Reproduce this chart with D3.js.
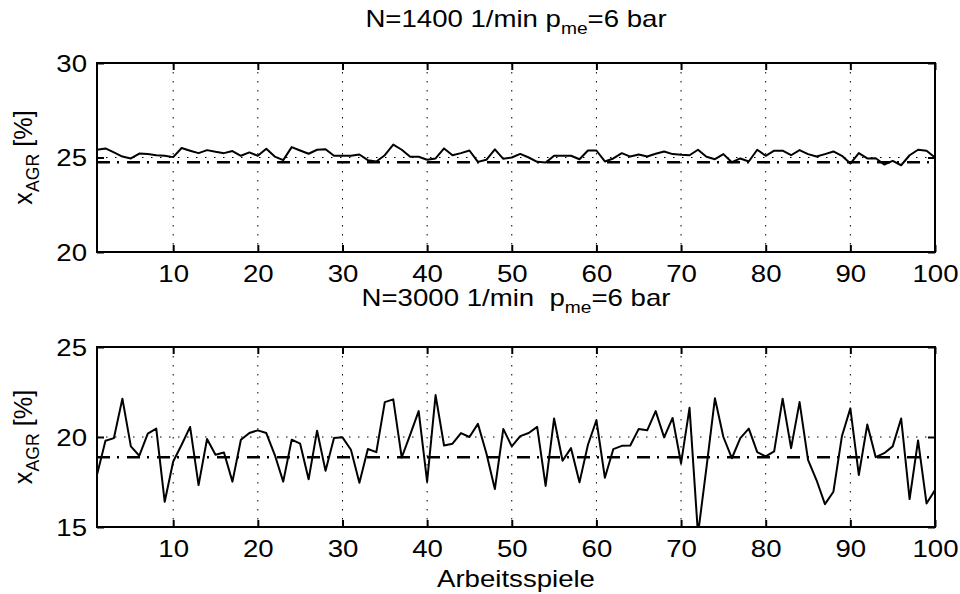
<!DOCTYPE html>
<html>
<head>
<meta charset="utf-8">
<script src="https://cdn.jsdelivr.net/npm/d3@7"></script>
<style>
  body { margin: 0; background: #fff; }
  text { font-family: "Liberation Sans", Arial, sans-serif; fill: #000; }
</style>
</head>
<body>
<div id="chart"></div>
<script>
// x_AGR per working cycle, 1400 1/min
const agrLow = [25.41, 25.48, 25.27, 25.05, 24.95, 25.21, 25.18, 25.12, 25.09, 25.02,
    25.50, 25.36, 25.23, 25.39, 25.30, 25.23, 25.34, 25.09, 25.27, 25.09,
    25.46, 25.05, 24.86, 25.55, 25.37, 25.20, 25.41, 25.44, 25.09, 25.09,
    25.09, 25.16, 24.86, 24.79, 25.12, 25.68, 25.41, 25.04, 25.04, 24.88,
    24.95, 25.48, 25.12, 25.23, 25.37, 24.77, 24.88, 25.43, 24.93, 25.00,
    25.19, 25.00, 24.77, 24.73, 25.09, 25.09, 25.09, 24.91, 25.37, 25.37,
    24.79, 24.95, 25.23, 25.05, 25.16, 25.05, 25.20, 25.32, 25.18, 25.14,
    25.12, 25.41, 25.04, 24.91, 25.18, 24.75, 24.95, 24.79, 25.41, 25.09,
    25.36, 25.36, 25.12, 25.39, 25.18, 25.05, 25.18, 25.32, 25.09, 24.68,
    25.23, 24.95, 24.96, 24.63, 24.82, 24.59, 25.12, 25.41, 25.36, 25.00];

// x_AGR per working cycle, 3000 1/min
const agrHigh = [17.9, 19.79, 19.94, 22.13, 19.48, 18.96, 20.19, 20.47, 16.40, 18.64,
    19.57, 20.56, 17.33, 19.89, 19.01, 19.14, 17.52, 19.85, 20.22, 20.37,
    20.22, 19.01, 17.52, 19.85, 19.63, 17.65, 20.35, 18.12, 19.94, 19.98,
    19.29, 17.46, 19.33, 19.16, 21.94, 22.09, 18.86, 20.13, 21.44, 17.52,
    22.33, 19.53, 19.63, 20.22, 20.00, 20.73, 19.10, 17.11, 20.45, 19.48,
    20.05, 20.22, 20.56, 17.28, 21.03, 18.68, 19.38, 17.48, 19.57, 20.93,
    17.74, 19.33, 19.51, 19.53, 20.45, 20.37, 21.44, 19.98, 21.06, 18.54,
    21.62, 14.6, 18.3, 22.15, 20.00, 18.82, 19.94, 20.47, 19.16, 18.92,
    19.20, 22.13, 19.38, 21.94, 18.73, 17.61, 16.27, 16.96, 20.04, 21.59,
    17.89, 20.69, 18.88, 19.10, 19.48, 21.03, 16.55, 19.81, 16.31, 17.05];

const meanLow = 24.75;
const meanHigh = 18.87;

const xTicks = [10, 20, 30, 40, 50, 60, 70, 80, 90, 100];
const yTicksLow = [20, 25, 30];
const yTicksHigh = [15, 20, 25];

const width = 960, height = 594;
const left = 97, right = 935;
const sx = 1.2;   // text in the source is stretched horizontally
const fs = 23;

const svg = d3.select("#chart").append("svg")
    .attr("width", width)
    .attr("height", height);

const x = d3.scaleLinear().domain([1, 100]).range([left, right]);

function panel(id, values, mean, yDomain, yTicks, top, bottom, title) {
    const y = d3.scaleLinear().domain(yDomain).range([bottom, top]);
    const g = svg.append("g");

    g.append("clipPath").attr("id", id)
        .append("rect")
        .attr("x", left).attr("y", top)
        .attr("width", right - left).attr("height", bottom - top);

    // grid
    g.selectAll(".vgrid")
        .data(xTicks.filter(d => d < 100))
        .enter().append("line")
        .attr("x1", d => x(d)).attr("x2", d => x(d))
        .attr("y1", top).attr("y2", bottom)
        .attr("stroke", "#000").attr("stroke-width", 1)
        .attr("stroke-dasharray", "1.5,7.5");
    g.selectAll(".hgrid")
        .data(yTicks.slice(1, -1))
        .enter().append("line")
        .attr("x1", left).attr("x2", right)
        .attr("y1", d => y(d)).attr("y2", d => y(d))
        .attr("stroke", "#000").attr("stroke-width", 1)
        .attr("stroke-dasharray", "1.5,7.5");

    // mean line
    g.append("line")
        .attr("x1", left).attr("x2", right)
        .attr("y1", y(mean)).attr("y2", y(mean))
        .attr("stroke", "#000").attr("stroke-width", 2.5)
        .attr("stroke-dasharray", "13,7,2,8");

    // data
    const line = d3.line().x((d, i) => x(i + 1)).y(d => y(d));
    g.append("path")
        .datum(values)
        .attr("clip-path", `url(#${id})`)
        .attr("d", line)
        .attr("fill", "none")
        .attr("stroke", "#000")
        .attr("stroke-width", 2)
        .attr("stroke-linejoin", "round");

    // axes (ticks inside, box)
    const ax = [
        g.append("g").attr("transform", `translate(0,${bottom})`)
            .call(d3.axisBottom(x).tickValues(xTicks).tickSizeInner(-7).tickSizeOuter(0).tickPadding(14)),
        g.append("g").attr("transform", `translate(0,${top})`)
            .call(d3.axisTop(x).tickValues(xTicks).tickSizeInner(-7).tickSizeOuter(0).tickFormat("")),
        g.append("g").attr("transform", `translate(${left},0)`)
            .call(d3.axisLeft(y).tickValues(yTicks).tickSizeInner(-7).tickSizeOuter(0).tickPadding(14)),
        g.append("g").attr("transform", `translate(${right},0)`)
            .call(d3.axisRight(y).tickValues(yTicks).tickSizeInner(-7).tickSizeOuter(0).tickFormat(""))
    ];
    ax.forEach(a => {
        a.select(".domain").remove();
        a.selectAll("line").attr("stroke", "#000").attr("stroke-width", 2);
        a.selectAll("text")
            .style("font-size", fs + "px")
            .style("font-family", "'Liberation Sans', Arial, sans-serif");
    });
    ax[0].selectAll("text").attr("dy", "0.71em")
        .attr("transform", `scale(${sx},1)`);
    ax[2].selectAll("text").attr("dy", "0.36em")
        .attr("transform", `scale(${sx},1)`)
        .attr("x", -10 / sx);

    g.append("rect")
        .attr("x", left).attr("y", top)
        .attr("width", right - left).attr("height", bottom - top)
        .attr("fill", "none").attr("stroke", "#000").attr("stroke-width", 2);

    // y label
    const yl = g.append("text")
        .attr("transform", `translate(32,${(top + bottom) / 2}) rotate(-90) scale(1.1,1.15)`)
        .attr("text-anchor", "middle")
        .style("font-size", fs + "px");
    yl.append("tspan").text("x");
    yl.append("tspan").attr("dy", 6).style("font-size", "16px").text("AGR");
    yl.append("tspan").attr("dy", -6).text(" [%]");

    // title
    const t = g.append("text")
        .attr("transform", `translate(${(left + right) / 2},${title.y}) scale(${sx},1)`)
        .attr("text-anchor", "middle")
        .style("font-size", fs + "px");
    t.append("tspan").text(title.a);
    t.append("tspan").attr("dy", 7).style("font-size", "16px").text("me");
    t.append("tspan").attr("dy", -7).text("=6 bar");
}

panel("clipA", agrLow, meanLow, [20, 30], yTicksLow, 63, 252,
    { a: "N=1400 1/min p", y: 27 });
panel("clipB", agrHigh, meanHigh, [15, 25], yTicksHigh, 347, 527,
    { a: "N=3000 1/min\u00a0 p", y: 306 });

svg.append("text")
    .attr("transform", `translate(${(left + right) / 2},587) scale(${sx},1)`)
    .attr("text-anchor", "middle")
    .style("font-size", fs + "px")
    .text("Arbeitsspiele");
</script>
</body>
</html>
